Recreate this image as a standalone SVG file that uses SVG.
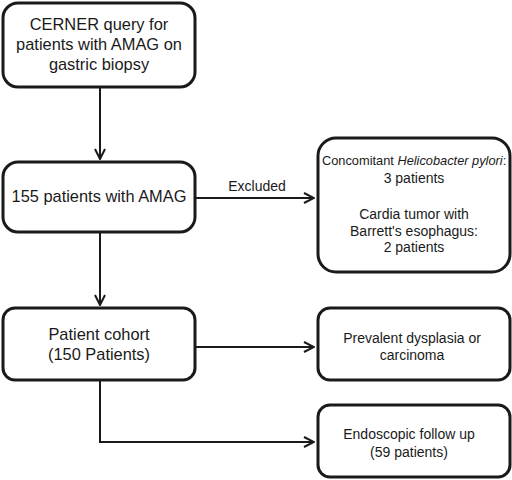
<svg xmlns="http://www.w3.org/2000/svg" width="512" height="480" viewBox="0 0 512 480">
<defs>
<style>
.box{fill:#fff;stroke:#1a1a1a;stroke-width:3}
.ln{fill:none;stroke:#1a1a1a;stroke-width:2}
.t{font-family:"Liberation Sans",Arial,sans-serif;fill:#1a1a1a;text-anchor:middle}
.s{font-family:"Liberation Sans",Arial,sans-serif;fill:#1a1a1a;text-anchor:start;font-size:12.8px}
.big{font-size:16.4px}
.sm{font-size:14px}
</style>
<marker id="ar" viewBox="0 0 12 12" refX="11" refY="6" markerWidth="12" markerHeight="12" markerUnits="userSpaceOnUse" orient="auto">
<path d="M1,1 L11,6 L1,11" fill="none" stroke="#1a1a1a" stroke-width="2"/>
</marker>
</defs>
<rect width="512" height="480" fill="#fff"/>
<g id="connectors">
<line class="ln" x1="100" y1="88" x2="100" y2="159" marker-end="url(#ar)"/>
<line class="ln" x1="195" y1="198" x2="314" y2="198" marker-end="url(#ar)"/>
<line class="ln" x1="100" y1="233" x2="100" y2="305" marker-end="url(#ar)"/>
<line class="ln" x1="195" y1="347" x2="314" y2="347" marker-end="url(#ar)"/>
<polyline class="ln" points="100,380 100,442 314,442" marker-end="url(#ar)"/>
<text class="t sm" x="257" y="191">Excluded</text>
</g>
<g id="n1">
<rect class="box" x="3" y="3" width="192" height="84" rx="15"/>
<text class="t big" x="99" y="30">CERNER query for</text>
<text class="t big" x="99" y="50">patients with AMAG on</text>
<text class="t big" x="99" y="70">gastric biopsy</text>
</g>
<g id="n2">
<rect class="box" x="3" y="162" width="192" height="70" rx="15"/>
<text class="t big" x="99" y="202">155 patients with AMAG</text>
</g>
<g id="n3">
<rect class="box" x="318" y="138" width="192" height="134" rx="18"/>
<text class="s" x="322" y="165">Concomitant</text>
<text class="s" x="397.4" y="165" font-style="italic">Helicobacter pylori</text>
<text class="s" x="502.7" y="165">:</text>
<text class="t sm" x="414" y="183">3 patients</text>
<text class="t sm" x="414" y="219">Cardia tumor with</text>
<text class="t sm" x="414" y="236">Barrett's esophagus:</text>
<text class="t sm" x="414" y="252">2 patients</text>
</g>
<g id="n4">
<rect class="box" x="3" y="308" width="192" height="72" rx="12"/>
<text class="t big" x="99" y="340">Patient cohort</text>
<text class="t big" x="99" y="360">(150 Patients)</text>
</g>
<g id="n5">
<rect class="box" x="318" y="308" width="192" height="72" rx="12"/>
<text class="t sm" x="412" y="343">Prevalent dysplasia or</text>
<text class="t sm" x="412" y="360">carcinoma</text>
</g>
<g id="n6">
<rect class="box" x="318" y="405" width="192" height="72" rx="12"/>
<text class="t sm" x="409" y="439">Endoscopic follow up</text>
<text class="t sm" x="409" y="457">(59 patients)</text>
</g>
</svg>
